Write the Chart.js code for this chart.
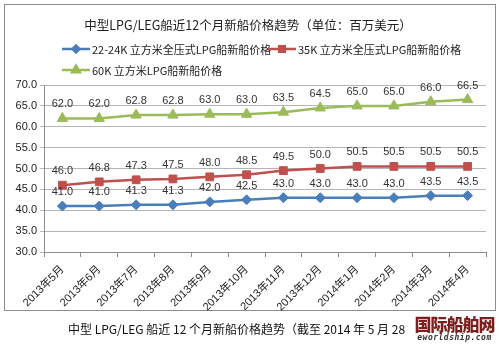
<!DOCTYPE html>
<html>
<head>
<meta charset="utf-8">
<script src="https://cdn.jsdelivr.net/npm/chart.js@4"></script>
<style>
  body { margin: 0; background: #fff; }
  #wrap { position: relative; width: 500px; height: 344px; overflow: hidden; }
  #frame { position: absolute; left: 4px; top: 4px; width: 490px; height: 305px; border: 1px solid #8c8c8c; }
  #c { position: absolute; left: 0; top: 0; }
  #caption { position: absolute; left: 68px; top: 320px; font: 12px "Noto Sans CJK SC", sans-serif; color: #111; white-space: nowrap; }
  #logo { position: absolute; left: 409px; top: 314px; width: 91px; height: 30px; background: #fff; text-align: center; }
  #logo .cn { font: 900 17px/19px "Noto Sans CJK SC", sans-serif; color: #7d1d1d; letter-spacing: -1px; }
  #logo .en { font: italic bold 8px/9px "DejaVu Sans Mono", monospace; color: #333; letter-spacing: 0.5px; }
</style>
</head>
<body>
<div id="wrap">
  <div id="frame"></div>
  <canvas id="c" width="500" height="344"></canvas>
  <div id="caption">中型 LPG/LEG 船近 12 个月新船价格趋势（截至 2014 年 5 月 28 日）</div>
  <div id="logo"><div class="cn">国际船舶网</div><div class="en">eworldship.com</div></div>
</div>
<script>
const months = ['2013年5月', '2013年6月', '2013年7月', '2013年8月', '2013年9月', '2013年10月',
  '2013年11月', '2013年12月', '2014年1月', '2014年2月', '2014年3月', '2014年4月'];
const price22k = [41.0, 41.0, 41.3, 41.3, 42.0, 42.5, 43.0, 43.0, 43.0, 43.0, 43.5, 43.5];
const price35k = [46.0, 46.8, 47.3, 47.5, 48.0, 48.5, 49.5, 50.0, 50.5, 50.5, 50.5, 50.5];
const price60k = [62.0, 62.0, 62.8, 62.8, 63.0, 63.0, 63.5, 64.5, 65.0, 65.0, 66.0, 66.5];
const seriesNames = ['22-24K 立方米全压式LPG船新船价格', '35K 立方米全压式LPG船新船价格', '60K 立方米LPG船新船价格'];
const titleText = '中型LPG/LEG船近12个月新船价格趋势（单位：百万美元）';

const colors = ['#4a7ebb', '#c0504d', '#9bbb59'];
const shapes = ['rectRot', 'rect', 'triangle'];
const radii = [5, 5.5, 6];
const cjk = '"Noto Sans CJK SC", sans-serif';

function drawMarker(ctx, shape, x, y, r) {
  Chart.helpers.drawPoint(ctx, { pointStyle: shape, radius: r, borderWidth: 1 }, x, y);
}

// title, legend and value labels
const extras = {
  id: 'extras',
  afterDatasetsDraw(chart) {
    const ctx = chart.ctx;
    ctx.save();
    ctx.fillStyle = '#222';
    ctx.font = '12.5px ' + cjk;
    ctx.textAlign = 'center';
    ctx.textBaseline = 'middle';
    ctx.fillText(titleText, 248, 25);

    // legend
    ctx.font = '11px ' + cjk;
    ctx.textAlign = 'left';
    const spots = [[62, 49], [268, 49], [62, 70]];
    spots.forEach((s, i) => {
      const [x, y] = s;
      ctx.strokeStyle = colors[i];
      ctx.lineWidth = 2.5;
      ctx.beginPath(); ctx.moveTo(x, y); ctx.lineTo(x + 28, y); ctx.stroke();
      ctx.fillStyle = colors[i];
      drawMarker(ctx, shapes[i], x + 14, y, radii[i] - 1.5);
      ctx.fillStyle = '#222';
      ctx.fillText(seriesNames[i], x + 30, y + 1);
    });

    // value labels
    ctx.font = '11px "Liberation Sans", Arial, sans-serif';
    ctx.textAlign = 'center';
    ctx.fillStyle = '#333';
    chart.data.datasets.forEach((ds, i) => {
      chart.getDatasetMeta(i).data.forEach((pt, j) => {
        ctx.fillText(ds.data[j].toFixed(1), pt.x, pt.y - 14);
      });
    });
    ctx.restore();
  }
};

new Chart(document.getElementById('c'), {
  type: 'line',
  data: {
    labels: months,
    datasets: [price22k, price35k, price60k].map((d, i) => ({
      label: seriesNames[i],
      data: d,
      borderColor: colors[i],
      backgroundColor: colors[i],
      borderWidth: 2.5,
      pointStyle: shapes[i],
      pointRadius: radii[i],
      pointBorderWidth: 1,
      pointBorderColor: colors[i],
      tension: 0
    }))
  },
  options: {
    responsive: false,
    animation: false,
    layout: { padding: { left: 4, right: 14, top: 85, bottom: 32 } },
    plugins: { legend: { display: false }, title: { display: false }, tooltip: { enabled: false } },
    scales: {
      x: {
        offset: true,
        afterFit(s) { s.height = 60; },
        grid: { display: true, drawOnChartArea: false, offset: true, color: '#8c8c8c', tickLength: 5 },
        border: { color: '#8c8c8c' },
        ticks: { minRotation: 45, maxRotation: 45, color: '#222', font: { size: 11, family: '"Liberation Sans", ' + cjk }, padding: 6 }
      },
      y: {
        min: 30, max: 70,
        afterFit(s) { s.width = 40; },
        grid: { color: '#b5b5b5', tickLength: 4 },
        border: { color: '#8c8c8c' },
        ticks: { stepSize: 5, color: '#222', font: { size: 11, family: '"Liberation Sans", Arial, sans-serif' }, padding: 3,
          callback: v => v.toFixed(1) }
      }
    }
  },
  plugins: [extras]
});
</script>
</body>
</html>
